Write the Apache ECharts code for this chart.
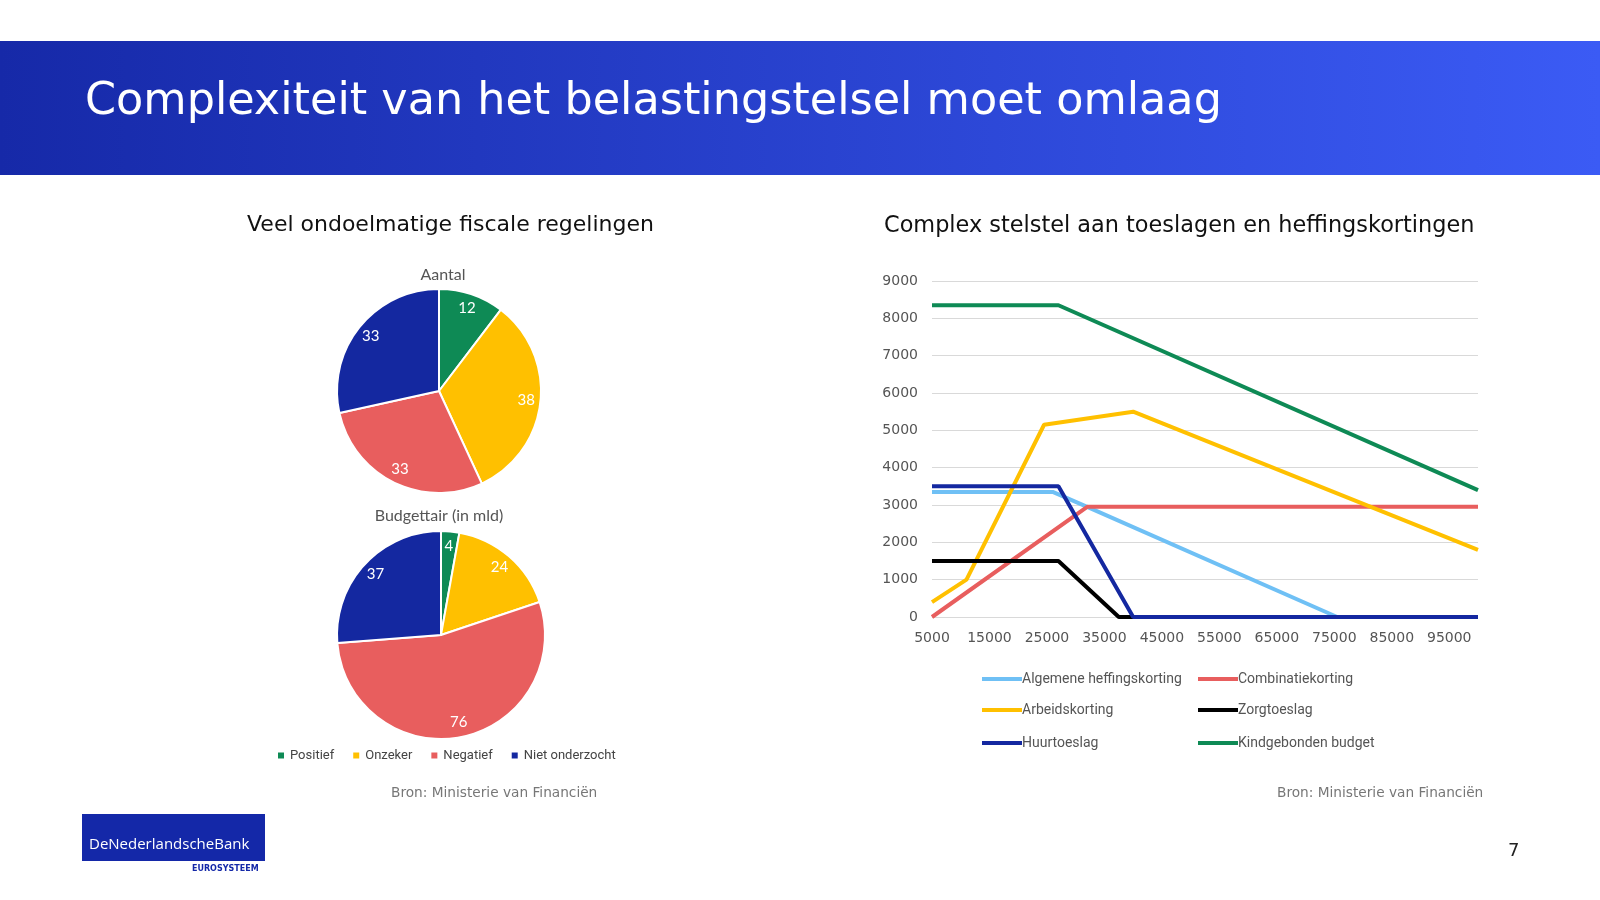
<!DOCTYPE html>
<html lang="nl">
<head>
<meta charset="UTF-8">
<title>Complexiteit van het belastingstelsel</title>
<style>
  * { padding: 0; margin: 0; }
  body { background: #fff; }
</style>
</head>
<body>
<div id="main" style="width:1600px;height:900px;"></div>
<script src="https://cdn.jsdelivr.net/npm/echarts@6/dist/echarts.min.js"></script>
<script>
// pie data
var pieCats = ['Positief', 'Onzeker', 'Negatief', 'Niet onderzocht'];
var pieColors = ['#0e8a55', '#ffc000', '#e85e5e', '#1428a0'];
var aantal = [12, 38, 33, 33];
var budget = [4, 24, 76, 37];

// line data: [inkomen, bedrag]
var lineNames = ['Algemene heffingskorting', 'Combinatiekorting', 'Arbeidskorting', 'Zorgtoeslag', 'Huurtoeslag', 'Kindgebonden budget'];
var lineColors = ['#6fc0f5', '#e85e5e', '#ffc000', '#000000', '#1428a0', '#0e8a55'];
var algemene = [[5000, 3350], [26000, 3350], [32000, 2950], [75500, 0], [100000, 0]];
var combinatie = [[5000, 0], [32000, 2950], [100000, 2950]];
var arbeid = [[5000, 400], [11000, 1000], [24500, 5150], [40000, 5500], [100000, 1800]];
var zorg = [[5000, 1500], [27000, 1500], [37500, 0], [40000, 0]];
var huur = [[5000, 3500], [27000, 3500], [40000, 0], [100000, 0]];
var kind = [[5000, 8350], [27000, 8350], [100000, 3400]];
var lineData = [algemene, combinatie, arbeid, zorg, huur, kind];

var font = 'DejaVu Sans';

function pieSeries(name, data, center, r) {
  return [{
    type: 'pie', name: name, center: center, radius: [0, r],
    startAngle: 90, clockwise: true,
    itemStyle: { borderColor: '#fff', borderWidth: 2 },
    label: { show: false },
    emphasis: { disabled: true },
    data: pieCats.map(function (c, i) { return { name: c, value: data[i], itemStyle: { color: pieColors[i] } }; })
  }, {
    // transparent ring, only used to put the values near the edge
    type: 'pie', name: name + ' labels', center: center, radius: [r * 0.66, r],
    startAngle: 90, clockwise: true, silent: true,
    itemStyle: { color: 'rgba(0,0,0,0)', borderWidth: 0 },
    label: { show: true, position: 'inside', formatter: '{c}', color: '#fff', fontSize: 15, fontFamily: 'Lato' },
    emphasis: { disabled: true },
    data: pieCats.map(function (c, i) { return { name: c, value: data[i] }; })
  }];
}

var legendPos = [[977, 667], [1193, 667], [977, 698], [1193, 698], [977, 731], [1193, 731]];
var legends = [{
  data: pieCats, left: 271, top: 744, itemWidth: 8, itemHeight: 8, itemGap: 17,
  icon: 'rect', textStyle: { fontSize: 13, color: '#444', fontFamily: 'Roboto' }
}];
lineNames.forEach(function (n, i) {
  legends.push({
    data: [n], left: legendPos[i][0], top: legendPos[i][1], itemWidth: 40, itemHeight: 4, itemGap: 0,
    icon: 'rect', textStyle: { fontSize: 14, color: '#555', fontFamily: 'Roboto', padding: [0, 0, 0, -5] }
  });
});

var series = [].concat(
  pieSeries('Aantal', aantal, [439, 391], 102),
  pieSeries('Budgettair', budget, [441, 635], 104)
);
lineNames.forEach(function (n, i) {
  series.push({
    type: 'line', name: n, data: lineData[i], showSymbol: false,
    lineStyle: { width: 4, color: lineColors[i] }, itemStyle: { color: lineColors[i] }
  });
});

var option = {
  animation: false,
  legend: legends,
  grid: { left: 932, right: 122, top: 281, bottom: 283 },
  xAxis: {
    type: 'value', min: 5000, max: 100000, interval: 5000,
    axisLine: { show: false }, axisTick: { show: false }, splitLine: { show: false },
    axisLabel: {
      fontSize: 14, color: '#555', fontFamily: font, margin: 14, showMaxLabel: false,
      formatter: function (v) { return (v / 5000) % 2 === 1 ? String(v) : ''; }
    }
  },
  yAxis: {
    type: 'value', min: 0, max: 9000, interval: 1000,
    axisLine: { show: false }, axisTick: { show: false },
    splitLine: { lineStyle: { color: '#d9d9d9', width: 1 } },
    axisLabel: { fontSize: 14, color: '#555', fontFamily: font, margin: 14, formatter: function (v) { return String(v); } }
  },
  graphic: [
    {
      type: 'rect', shape: { x: 0, y: 41, width: 1600, height: 134 },
      style: { fill: new echarts.graphic.LinearGradient(0, 0, 1, 0, [{ offset: 0, color: '#1629a8' }, { offset: 1, color: '#3b5bf5' }]) }
    },
    { type: 'text', left: 85, top: 80, style: { text: 'Complexiteit van het belastingstelsel moet omlaag', fill: '#fff', font: '44.5px "DejaVu Sans"' } },
    { type: 'text', left: 247, top: 214, style: { text: 'Veel ondoelmatige fiscale regelingen', fill: '#111', font: '22px "DejaVu Sans"' } },
    { type: 'text', left: 884, top: 215, style: { text: 'Complex stelstel aan toeslagen en heffingskortingen', fill: '#111', font: '22.4px "DejaVu Sans"' } },
    { type: 'text', x: 443, y: 267, style: { text: 'Aantal', fill: '#555', font: '16px "Lato"', textAlign: 'center' } },
    { type: 'text', x: 439, y: 508, style: { text: 'Budgettair (in mld)', fill: '#555', font: '16px "Lato"', textAlign: 'center' } },
    { type: 'text', left: 391, top: 786, style: { text: 'Bron: Ministerie van Financiën', fill: '#777', font: '13.7px "DejaVu Sans"' } },
    { type: 'text', left: 1277, top: 786, style: { text: 'Bron: Ministerie van Financiën', fill: '#777', font: '13.7px "DejaVu Sans"' } },
    { type: 'rect', shape: { x: 82, y: 814, width: 183, height: 47 }, style: { fill: '#1428a8' } },
    { type: 'text', left: 89, top: 837, style: { text: 'DeNederlandscheBank', fill: '#fff', font: '15px "Open Sans"' } },
    { type: 'text', left: 192, top: 865, style: { text: 'EUROSYSTEEM', fill: '#1428a8', font: 'bold 8px "DejaVu Sans"' } },
    { type: 'text', left: 1508, top: 842, style: { text: '7', fill: '#222', font: '18px "DejaVu Sans"' } }
  ],
  series: series
};

var myChart = echarts.init(document.getElementById('main'));
myChart.setOption(option);
</script>
</body>
</html>
